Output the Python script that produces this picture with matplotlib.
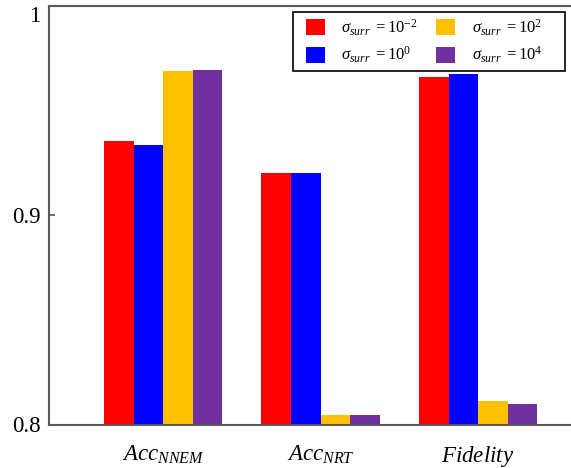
import matplotlib
matplotlib.use("Agg")
import matplotlib.pyplot as plt
from matplotlib.patches import Rectangle
import numpy as np

plt.rcParams['font.family'] = ['Liberation Serif', 'DejaVu Serif']
plt.rcParams['mathtext.fontset'] = 'custom'
plt.rcParams['mathtext.rm'] = 'Liberation Serif'
plt.rcParams['mathtext.it'] = 'Liberation Serif:italic'
plt.rcParams['mathtext.bf'] = 'Liberation Serif:bold'

categories = [r'$Acc_{NNEM}$', r'$Acc_{NRT}$', r'$Fidelity$']
series_labels = [r'$\sigma_{surr}\ \mathrm{=}10^{-2}$', r'$\sigma_{surr}\ \mathrm{=}10^{0}$',
                 r'$\sigma_{surr}\ \mathrm{=}10^{2}$', r'$\sigma_{surr}\ \mathrm{=}10^{4}$']
values_m2 = [0.9355, 0.9200, 0.9659]
values_0 = [0.9337, 0.9200, 0.9674]
values_2 = [0.9691, 0.8045, 0.8112]
values_4 = [0.9694, 0.8044, 0.8098]
colors = ['#FF0000', '#0000FF', '#FFC000', '#7030A0']
yticks = [0.8, 0.9, 1.0]
ytick_labels = ['0.8', '0.9', '1']

W, H = 571, 468
fig = plt.figure(figsize=(W / 100, H / 100), dpi=100)
ax = fig.add_axes([49 / W, 1 - 424.5 / H, 1 - 49 / W, (424.5 - 6) / H])

x = np.arange(1, len(categories) + 1)
width = 0.1875
all_vals = [values_m2, values_0, values_2, values_4]
for i, (vals, c, lab) in enumerate(zip(all_vals, colors, series_labels)):
    ax.bar(x + (i - 1.5) * width, vals, width, color=c, label=lab, linewidth=0)

ax.set_xlim(0.276, 3.59)
ax.set_ylim(0.8, 1.0)
ax.set_yticks(yticks)
ax.set_yticklabels(ytick_labels, fontsize=16.5)
ax.get_yticklabels()[-1].set_verticalalignment('top')
ax.set_xticks(x)
ax.set_xticklabels(categories, fontsize=16.5)
ax.tick_params(axis='x', length=0, pad=14)
ax.tick_params(axis='y', direction='in', length=4, width=1.2, color='#555555', pad=6)
for s in ['left', 'top', 'bottom']:
    ax.spines[s].set_color('#5a5a5a')
    ax.spines[s].set_linewidth(1.5)
ax.spines['right'].set_visible(False)

# legend frame (figure pixel box) and legend contents
fig.patches.append(Rectangle((293 / W, 1 - 71 / H), (565 - 293) / W, (71 - 12) / H,
                             transform=fig.transFigure, facecolor='white',
                             edgecolor='black', linewidth=1.2, zorder=4))
leg = fig.legend(loc='center', bbox_to_anchor=(424 / W, 1 - 41.2 / H), ncol=2,
                 fontsize=12, handlelength=1.14, handleheight=1.14, handletextpad=1.0,
                 columnspacing=1.08, labelspacing=0.44, borderpad=0, borderaxespad=0,
                 frameon=False)
leg.set_zorder(5)

fig.savefig('out.png', dpi=100)
